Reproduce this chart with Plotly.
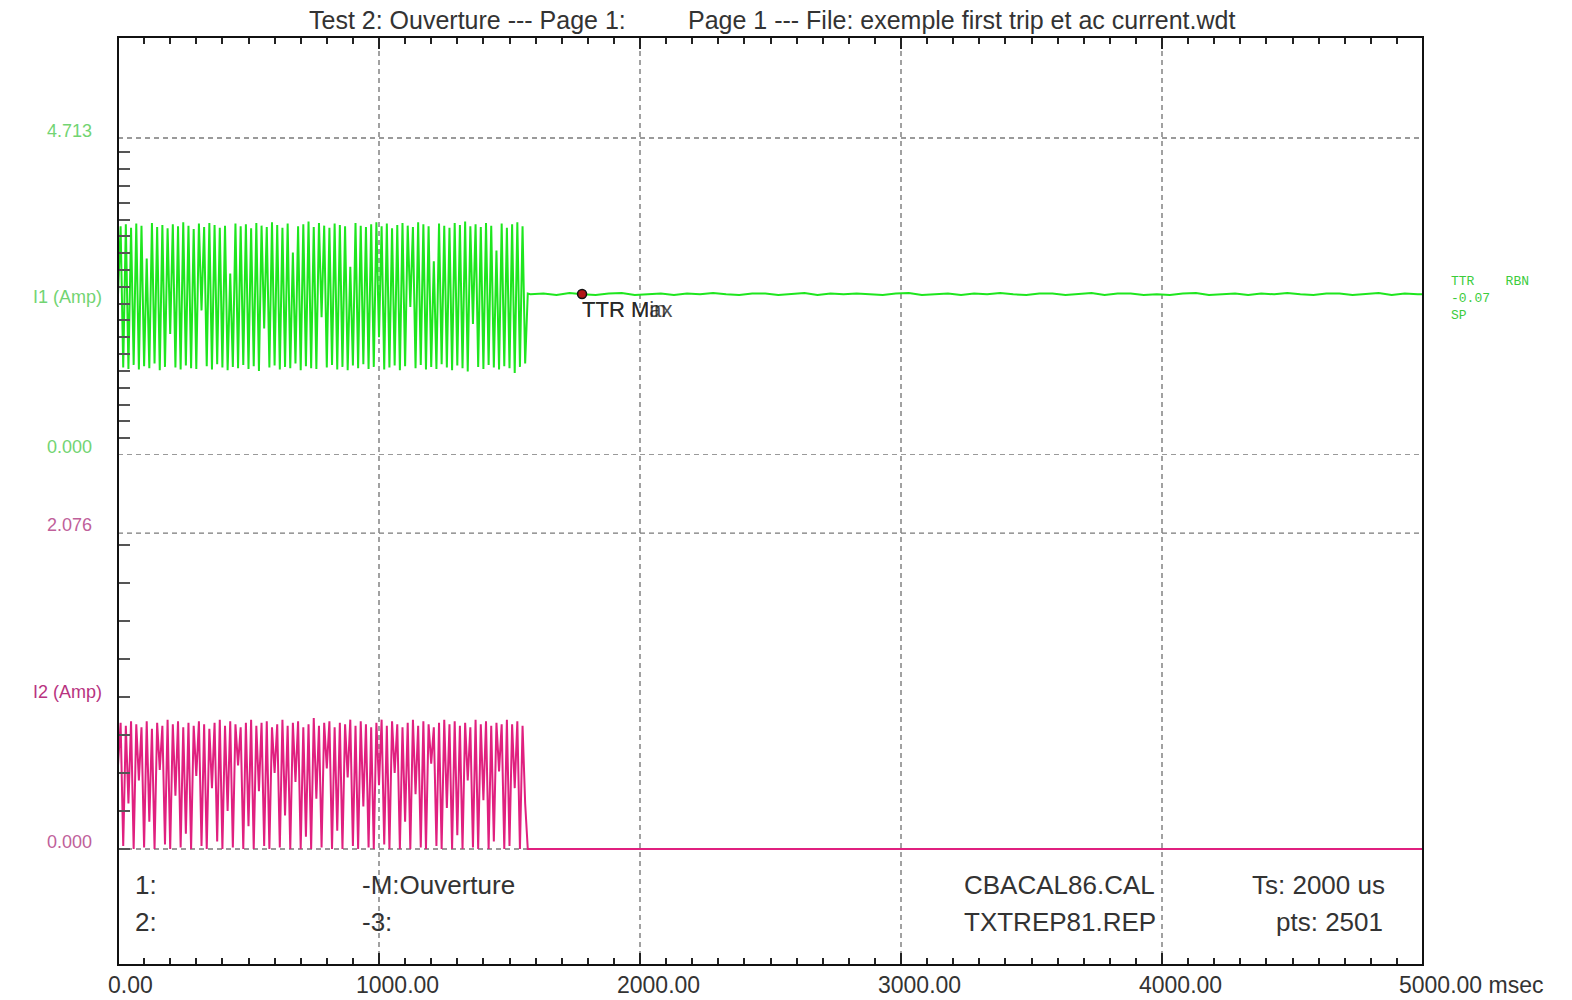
import plotly.graph_objects as go

# ---------------- data ----------------
TS_BURST_MS = 10          # spacing of the read values during the burst
TS_TAIL_MS = 50           # spacing of the read values after the trip
TAIL_START_MS = 1580

i1_burst = [
    2.38, 3.40, 1.30, 3.43, 1.28, 3.38, 1.34, 3.44, 1.27, 3.41,
    1.32, 2.92, 1.29, 3.45, 1.36, 3.39, 1.26, 3.42, 1.31, 3.37,
    1.80, 3.43, 1.30, 3.40, 1.27, 3.46, 1.33, 3.41, 1.29, 3.36,
    1.28, 3.44, 2.15, 3.39, 1.32, 3.45, 1.27, 3.42, 1.35, 3.38,
    1.30, 3.41, 1.26, 2.70, 1.31, 3.44, 1.29, 3.40, 1.34, 3.43,
    1.28, 3.37, 1.32, 3.45, 1.25, 3.41, 1.88, 3.39, 1.30, 3.46,
    1.33, 3.42, 1.27, 3.38, 1.31, 3.44, 1.29, 3.01, 1.36, 3.40,
    1.26, 3.43, 1.32, 3.47, 1.29, 3.39, 1.28, 3.45, 2.05, 3.41,
    1.30, 3.38, 1.34, 3.44, 1.27, 3.42, 1.31, 3.40, 1.26, 2.80,
    1.33, 3.45, 1.29, 3.41, 1.35, 3.39, 1.28, 3.43, 1.31, 3.46,
    1.75, 3.40, 1.27, 3.44, 1.30, 3.37, 1.33, 3.42, 1.26, 3.45,
    1.32, 3.41, 2.20, 3.39, 1.29, 3.46, 1.34, 3.43, 1.27, 3.40,
    1.31, 2.88, 1.28, 3.44, 1.35, 3.41, 1.30, 3.38, 1.26, 3.45,
    1.33, 3.42, 1.29, 3.47, 1.24, 3.40, 1.95, 3.43, 1.31, 3.39,
    1.28, 3.45, 1.34, 3.41, 1.30, 3.04, 1.27, 3.44, 1.32, 3.38,
    1.29, 3.43, 1.22, 3.46, 1.31, 3.40, 1.36, 2.40,
]

i1_tail = [
    2.39, 2.40, 2.38, 2.41, 2.39, 2.38, 2.40, 2.41, 2.38, 2.39,
    2.40, 2.38, 2.40, 2.39, 2.41, 2.39, 2.38, 2.40, 2.40, 2.38,
    2.39, 2.41, 2.38, 2.40, 2.39, 2.40, 2.39, 2.38, 2.40, 2.41,
    2.38, 2.39, 2.40, 2.38, 2.40, 2.39, 2.41, 2.39, 2.38, 2.40,
    2.40, 2.38, 2.39, 2.41, 2.38, 2.40, 2.40, 2.38, 2.39, 2.38,
    2.40, 2.41, 2.38, 2.39, 2.40, 2.38, 2.40, 2.39, 2.41, 2.39,
    2.38, 2.40, 2.40, 2.38, 2.39, 2.41, 2.38, 2.40, 2.39, 2.39,
]

i2_burst = [
    0.55, 0.83, 0.02, 0.81, 0.30, 0.84, 0.00, 0.82, 0.45, 0.80,
    0.01, 0.84, 0.18, 0.79, 0.00, 0.83, 0.52, 0.81, 0.03, 0.85,
    0.00, 0.82, 0.35, 0.84, 0.01, 0.80, 0.10, 0.83, 0.00, 0.81,
    0.48, 0.84, 0.02, 0.82, 0.00, 0.79, 0.40, 0.83, 0.05, 0.85,
    0.00, 0.81, 0.25, 0.84, 0.01, 0.82, 0.55, 0.80, 0.00, 0.83,
    0.15, 0.85, 0.00, 0.81, 0.38, 0.83, 0.02, 0.84, 0.00, 0.80,
    0.50, 0.82, 0.01, 0.85, 0.22, 0.81, 0.00, 0.83, 0.44, 0.84,
    0.00, 0.80, 0.08, 0.82, 0.00, 0.86, 0.33, 0.81, 0.01, 0.83,
    0.53, 0.84, 0.00, 0.80, 0.12, 0.83, 0.00, 0.82, 0.47, 0.85,
    0.02, 0.81, 0.00, 0.84, 0.28, 0.82, 0.01, 0.80, 0.00, 0.83,
    0.42, 0.85, 0.03, 0.81, 0.00, 0.84, 0.50, 0.82, 0.00, 0.80,
    0.18, 0.83, 0.00, 0.85, 0.36, 0.81, 0.01, 0.84, 0.00, 0.82,
    0.56, 0.80, 0.02, 0.83, 0.00, 0.85, 0.27, 0.82, 0.00, 0.84,
    0.09, 0.81, 0.00, 0.83, 0.45, 0.80, 0.01, 0.85, 0.00, 0.82,
    0.32, 0.84, 0.00, 0.81, 0.05, 0.83, 0.51, 0.82, 0.00, 0.85,
    0.02, 0.82, 0.40, 0.84, 0.00, 0.81, 0.30, 0.00,
]
i2_tail_t = [1580, 5000]
i2_tail = [0.0, 0.0]

ttr_marker_t = [1778]
ttr_marker_v = [2.394]

x_tick_values = [0, 1000, 2000, 3000, 4000, 5000]
x_tick_labels = ["0.00", "1000.00", "2000.00", "3000.00", "4000.00", "5000.00 msec"]
i1_scale = [4.713, 0.0]          # labelled levels, top channel
i2_scale = [2.076, 0.0]          # labelled levels, bottom channel

# ---------------- figure ----------------
W, H = 1572, 1000
ML, MR, MT, MB = 118, 149, 37, 35
PW, PH = W - ML - MR, H - MT - MB


def px(xp):
    return (xp - ML) / PW


def py(yp):
    return (H - MB - yp) / PH


GREEN = "#1ee61e"
PINK = "#e0207f"
FONT = "Liberation Sans, Arial, sans-serif"

t_burst = [i * TS_BURST_MS for i in range(len(i1_burst))]
t_tail = [TAIL_START_MS + i * TS_TAIL_MS for i in range(len(i1_tail))]
t2_burst = [i * TS_BURST_MS for i in range(len(i2_burst))]

fig = go.Figure()
fig.add_trace(go.Scatter(x=t_burst + t_tail, y=i1_burst + i1_tail, mode="lines",
                         line=dict(color=GREEN, width=2.0), xaxis="x2", yaxis="y",
                         showlegend=False, hoverinfo="skip"))
fig.add_trace(go.Scatter(x=t2_burst + i2_tail_t, y=i2_burst + i2_tail, mode="lines",
                         line=dict(color=PINK, width=2.0), xaxis="x", yaxis="y2",
                         showlegend=False, hoverinfo="skip"))
fig.add_trace(go.Scatter(x=ttr_marker_t, y=ttr_marker_v, mode="markers",
                         marker=dict(color="#b01818", size=9, line=dict(color="#111", width=1.5)),
                         xaxis="x2", yaxis="y", showlegend=False, hoverinfo="skip"))

tick_common = dict(ticks="inside", tickcolor="#222", tickwidth=1.5, showticklabels=False,
                   showgrid=False, zeroline=False, showline=False)
x_common = dict(range=[0, 5000], tick0=0, dtick=1000, ticklen=12,
                minor=dict(ticks="inside", dtick=100, ticklen=7, tickcolor="#222", showgrid=False),
                **tick_common)

split = py(455)
fig.update_layout(
    width=W, height=H,
    margin=dict(l=ML, r=MR, t=MT, b=MB, pad=0),
    paper_bgcolor="white", plot_bgcolor="white",
    xaxis=dict(domain=[0, 1], anchor="y2", **x_common),
    xaxis2=dict(domain=[0, 1], anchor="y", side="top", matches="x", **x_common),
    yaxis=dict(domain=[split, 1], range=[0, 6.215], anchor="x2",
               tickmode="array", tickvals=[0.25 * k for k in range(19)], ticklen=12,
               **{**tick_common, "tickcolor": "#555"}),
    yaxis2=dict(domain=[0, split], range=[-0.762, 2.589], anchor="x",
                tickmode="array", tickvals=[0.25 * k for k in range(9)], ticklen=12,
                **{**tick_common, "tickcolor": "#555"}),
)

shapes = []
grid_line = dict(color="#7a7a7a", width=1.4, dash="5px,4px")
for xv in x_tick_values[1:-1]:
    shapes.append(dict(type="line", xref="x", yref="paper", x0=xv, x1=xv, y0=0, y1=1,
                       line=grid_line, layer="below"))
for yv in i1_scale:
    shapes.append(dict(type="line", xref="paper", yref="y", x0=0, x1=1, y0=yv, y1=yv,
                       line=grid_line, layer="below"))
for yv in i2_scale:
    shapes.append(dict(type="line", xref="paper", yref="y2", x0=0, x1=1, y0=yv, y1=yv,
                       line=grid_line, layer="below"))
shapes.append(dict(type="rect", xref="paper", yref="paper", x0=0, x1=1, y0=0, y1=1,
                   line=dict(color="#111", width=2), layer="above"))
fig.update_layout(shapes=shapes)

ann = []


def text(x, y, s, size, color="#333", xanchor="left", family=FONT, xref="paper", yref="paper"):
    ann.append(dict(x=x, y=y, xref=xref, yref=yref, text=s, showarrow=False,
                    xanchor=xanchor, yanchor="middle",
                    font=dict(family=family, size=size, color=color)))


# title
text(px(628), py(20), "Test 2: Ouverture --- Page 1:", 25, "#333", "right")
text(px(686), py(20), "Page 1 --- File: exemple first trip et ac current.wdt", 25, "#333", "left")

# x tick labels
for xv, lab in zip(x_tick_values, x_tick_labels):
    if lab.endswith("msec"):
        ann.append(dict(x=xv, y=py(985), xref="x", yref="paper", text=lab, showarrow=False,
                        xanchor="left", yanchor="middle", xshift=-26,
                        font=dict(family=FONT, size=23, color="#333")))
    else:
        ann.append(dict(x=xv, y=py(985), xref="x", yref="paper", text=lab, showarrow=False,
                        xanchor="center", yanchor="middle", xshift=(12 if xv == 0 else 18),
                        font=dict(family=FONT, size=23, color="#333")))

# channel labels
G_LAB = "#72d472"
P_LAB = "#c0609a"
text(px(94), py(131), f"{i1_scale[0]:.3f}", 18, G_LAB, "right")
text(px(104), py(297), "I1 (Amp)", 18, G_LAB, "right")
text(px(94), py(447), f"{i1_scale[1]:.3f}", 18, G_LAB, "right")
text(px(94), py(525), f"{i2_scale[0]:.3f}", 18, P_LAB, "right")
text(px(104), py(692), "I2 (Amp)", 18, "#b8337f", "right")
text(px(94), py(842), f"{i2_scale[1]:.3f}", 18, P_LAB, "right")

# right side readout (one block, three lines)
MONO = "Liberation Mono, Courier New, monospace"
ann.append(dict(x=px(1449), y=py(298), xref="paper", yref="paper",
                text="TTR&nbsp;&nbsp;&nbsp;&nbsp;RBN<br>-0.07<br>SP", showarrow=False,
                xanchor="left", yanchor="middle", align="left",
                font=dict(family=MONO, size=13, color="#3ccc3c")))

# TTR markers text (the two labels print on top of each other in the original)
for lab in ["TTR Max", "TTR Min"]:
    ann.append(dict(x=ttr_marker_t[0], y=py(309), xref="x2", yref="paper", text=lab,
                    showarrow=False, xanchor="left", yanchor="middle", xshift=-2,
                    font=dict(family=FONT, size=22, color="rgba(30,30,30,0.8)")))

# bottom info block
text(px(133), py(885), "1:", 26)
text(px(133), py(922), "2:", 26)
text(px(360), py(885), "-M:Ouverture", 26)
text(px(360), py(922), "-3:", 26)
text(px(962), py(885), "CBACAL86.CAL", 26)
text(px(962), py(922), "TXTREP81.REP", 26)
text(px(1387), py(885), "Ts: 2000 us", 26, "#333", "right")
text(px(1385), py(922), "pts: 2501", 26, "#333", "right")

fig.update_layout(annotations=ann)
fig.write_html("out.html", config={"displayModeBar": False},
               post_script="document.body.style.margin='0';document.body.style.overflow='hidden';")
